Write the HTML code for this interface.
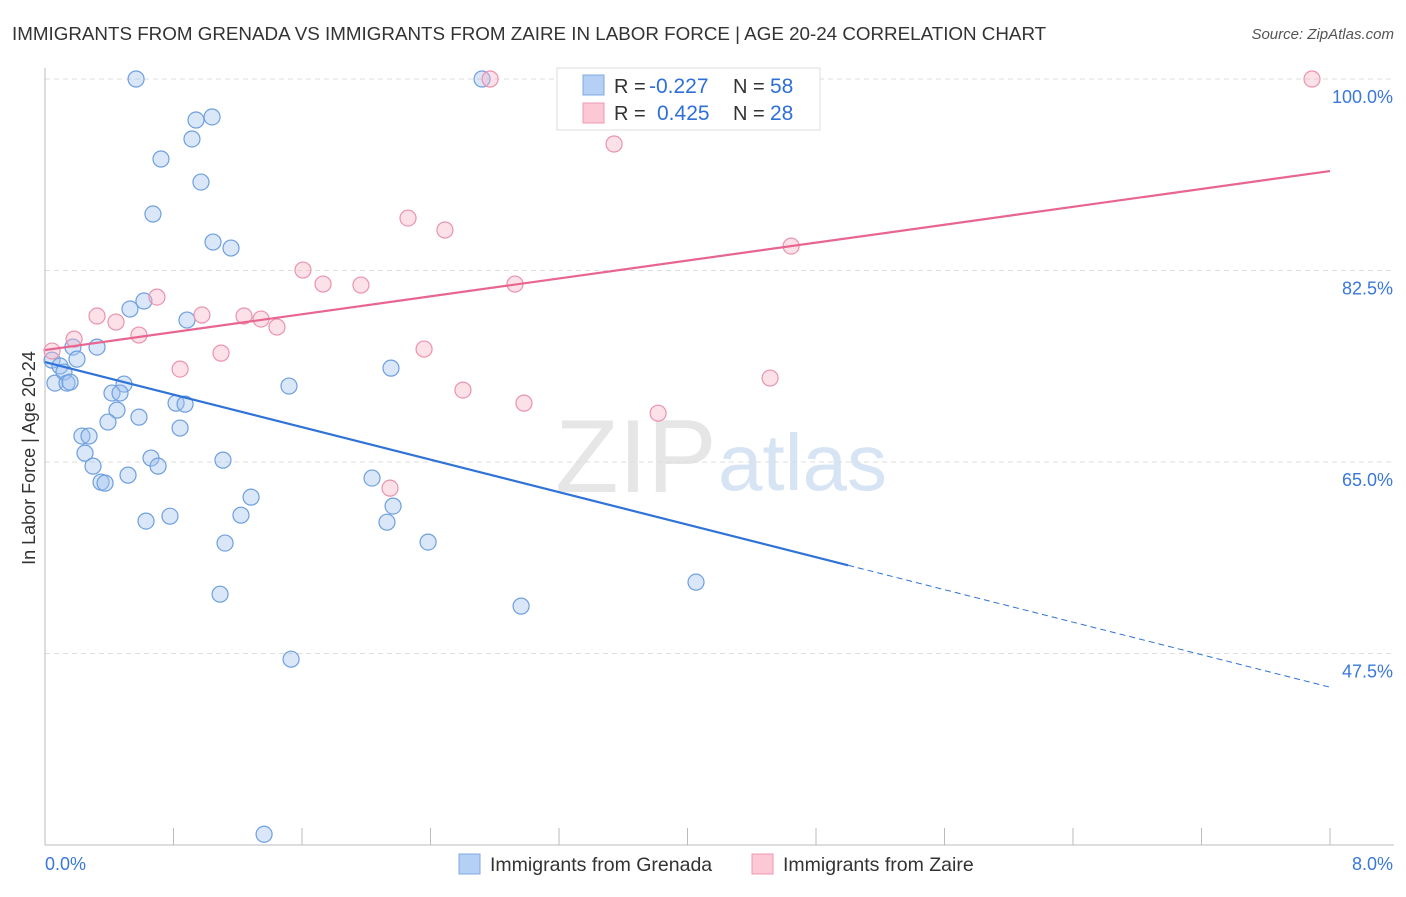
<!DOCTYPE html>
<html><head><meta charset="utf-8"><style>
body{margin:0;background:#fff;font-family:"Liberation Sans",sans-serif;}
svg text{font-family:"Liberation Sans",sans-serif;}
</style></head><body>
<svg id="chart" width="1406" height="892">
<text x="12" y="40" font-size="18.8" fill="#333">IMMIGRANTS FROM GRENADA VS IMMIGRANTS FROM ZAIRE IN LABOR FORCE | AGE 20-24 CORRELATION CHART</text>
<text x="1394" y="39" font-size="15" fill="#555" text-anchor="end" font-style="italic">Source: ZipAtlas.com</text>
<text x="35" y="458" font-size="18" fill="#333" text-anchor="middle" transform="rotate(-90 35 458)">In Labor Force | Age 20-24</text>
<g><text x="555" y="492" font-size="104" fill="#e6e6e6" font-family="Liberation Serif">ZIP</text><text x="718" y="490" font-size="80" fill="#d6e4f4">atlas</text></g>
<g id="grid"></g><g id="pts"></g><g id="lines"></g>
<g>
<rect x="557" y="68" width="263" height="62" fill="#fff" stroke="#ddd"/>
<rect x="583" y="75" width="21" height="20" fill="#b6d0f5" stroke="#7fa8e0"/>
<rect x="583" y="103" width="21" height="20" fill="#fcc8d6" stroke="#ee9ab2"/>
<text x="614" y="93" font-size="20" fill="#333">R =</text><text x="649" y="93" font-size="21" fill="#2f6fd8">-0.227</text>
<text x="733" y="93" font-size="20" fill="#333">N =</text><text x="770" y="93" font-size="21" fill="#2f6fd8">58</text>
<text x="614" y="120" font-size="20" fill="#333">R =</text><text x="657" y="120" font-size="21" fill="#2f6fd8">0.425</text>
<text x="733" y="120" font-size="20" fill="#333">N =</text><text x="770" y="120" font-size="21" fill="#2f6fd8">28</text>
</g>
<g>
<rect x="459" y="854" width="21" height="20" fill="#b6d0f5" stroke="#7fa8e0"/>
<text x="490" y="871" font-size="19.5" fill="#333">Immigrants from Grenada</text>
<rect x="752" y="854" width="21" height="20" fill="#fcc8d6" stroke="#ee9ab2"/>
<text x="783" y="871" font-size="19.5" fill="#333">Immigrants from Zaire</text>
</g>
<text x="45" y="870" font-size="18" fill="#3a78d8">0.0%</text>
<text x="1393" y="870" font-size="18" fill="#3a78d8" text-anchor="end">8.0%</text>
</svg>
<script>
const yTicks=[100,82.5,65,47.5];
const yTickLabels=["100.0%","82.5%","65.0%","47.5%"];
const blueX=[0.567,2.721,1.040,0.940,0.915,0.722,0.971,0.672,1.046,1.158,0.616,0.529,0.884,0.324,0.174,0.199,0.044,0.093,0.118,0.062,0.137,0.156,0.492,1.519,2.154,0.417,0.467,0.816,0.872,0.448,0.585,0.392,0.841,0.230,0.274,0.249,0.660,1.108,0.299,0.704,0.517,2.036,0.349,0.374,1.283,2.167,1.220,0.778,0.629,2.129,2.385,1.121,4.053,1.090,2.964,1.532,1.364];
const blueY=[100,100,96.53,96.25,94.52,92.69,90.58,87.66,85.10,84.55,79.71,78.98,77.97,75.50,75.50,74.40,74.31,73.77,73.22,72.21,72.21,72.30,72.12,71.94,73.58,71.30,71.30,70.38,70.29,69.74,69.10,68.65,68.10,67.37,67.37,65.81,65.36,65.17,64.62,64.62,63.80,63.53,63.16,63.07,61.79,60.97,60.14,60.05,59.60,59.50,57.68,57.59,54.02,52.92,51.83,46.98,30.98];
const pinkX=[2.771,7.888,3.543,2.260,2.490,4.645,1.606,1.731,1.967,2.926,0.697,0.324,0.977,0.442,1.239,1.345,1.444,0.585,0.181,2.360,1.096,0.044,0.841,4.514,2.602,2.982,3.817,2.148];
const pinkY=[100,100,94.06,87.29,86.20,84.73,82.54,81.26,81.17,81.26,80.07,78.34,78.43,77.79,78.34,78.06,77.33,76.60,76.23,75.32,74.95,75.14,73.49,72.67,71.57,70.38,69.46,62.61];
const blueTrend=[74.13,44.42], pinkTrend=[75.23,91.59], blueSolidEnd=5.0;
const NS='http://www.w3.org/2000/svg';
const sx=v=>45+v/8*1285, sy=v=>79+(100-v)/17.5*191.5;
function mk(tag,at,parent){const e=document.createElementNS(NS,tag);for(const k in at)e.setAttribute(k,at[k]);parent.appendChild(e);return e;}
const grid=document.getElementById('grid');
yTicks.forEach((t,i)=>{
 const l=mk('line',{x1:45,x2:1394,y1:sy(t),y2:sy(t),stroke:'#ddd','stroke-dasharray':'5,4'},grid);
 
 
 const tx=mk('text',{x:1393,y:sy(t)+24,'font-size':18,fill:'#3a78d8','text-anchor':'end'},grid);
 tx.textContent=yTickLabels[i];
 
 
});
const ax=mk('line',{x1:45,x2:45,y1:68,y2:845,stroke:'#bbb'},grid);


const bx=mk('line',{x1:45,x2:1394,y1:845,y2:845,stroke:'#bbb'},grid);


for(let i=1;i<=10;i++){const t=mk('line',{x1:sx(i*0.8),x2:sx(i*0.8),y1:828,y2:845,stroke:'#bbb'},grid);
 
 }
const pts=document.getElementById('pts');
blueX.forEach((x,i)=>{const c=mk('circle',{cx:sx(x),cy:sy(blueY[i]),r:8,fill:'rgba(160,195,240,0.4)',stroke:'#6e9fe0','stroke-width':1.2},pts);
 
 });
pinkX.forEach((x,i)=>{const c=mk('circle',{cx:sx(x),cy:sy(pinkY[i]),r:8,fill:'rgba(248,180,200,0.4)',stroke:'#ea93ad','stroke-width':1.2},pts);
 
 });
const ln=document.getElementById('lines');
const bAt=x=>blueTrend[0]+(blueTrend[1]-blueTrend[0])*x/8;
const l1=mk('line',{x1:sx(0),y1:sy(bAt(0)),x2:sx(blueSolidEnd),y2:sy(bAt(blueSolidEnd)),stroke:'#2f72d8','stroke-width':2.2},ln);


const l2=mk('line',{x1:sx(blueSolidEnd),y1:sy(bAt(blueSolidEnd)),x2:sx(8),y2:sy(bAt(8)),stroke:'#2f72d8','stroke-width':1,'stroke-dasharray':'6,4'},ln);


const l3=mk('line',{x1:sx(0),y1:sy(pinkTrend[0]),x2:sx(8),y2:sy(pinkTrend[1]),stroke:'#e86590','stroke-width':2.2},ln);


</script>
</body></html>
